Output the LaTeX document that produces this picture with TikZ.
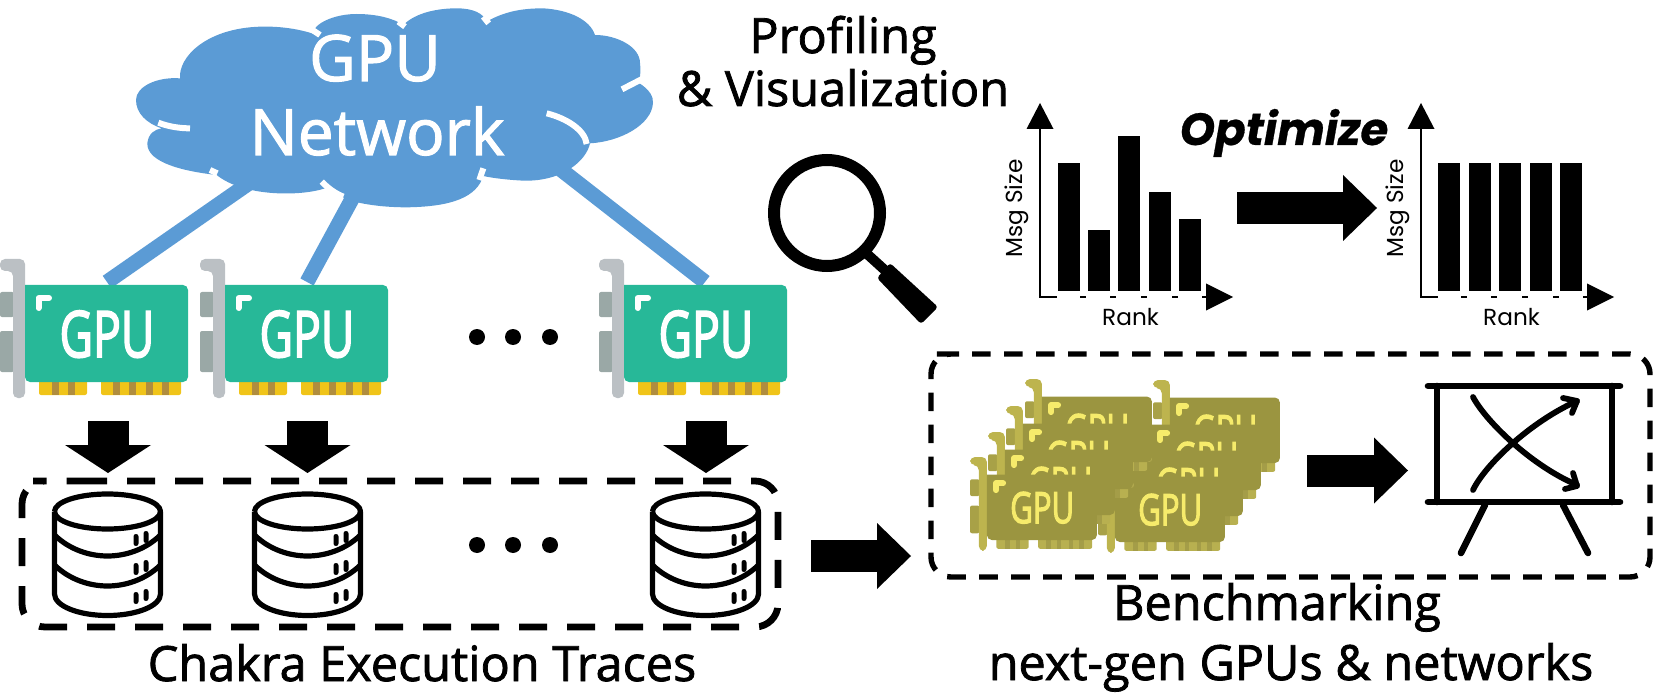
\documentclass[tikz,border=0pt]{standalone}
\usepackage{fontspec}
\usetikzlibrary{arrows.meta}
\setmainfont{Open Sans}[FakeBold=1.6]
\newfontfamily\cardfont{Open Sans}[FakeBold=3]
\newfontfamily\popfont{Poppins}
\newfontfamily\optfont{Poppins}[BoldItalicFeatures={FakeBold=0.6}]
\definecolor{cloudblue}{HTML}{5B9BD5}
\tikzset{
  x=0.5pt,y=-0.5pt,
  mainlabel/.style={anchor=base,inner sep=0pt,font=\fontsize{24.3pt}{29pt}\selectfont},
  axislabel/.style={anchor=base,inner sep=0pt,font=\popfont\fontsize{11.6pt}{14pt}\selectfont},
  cloudtext/.style={anchor=base,inner sep=0pt,text=white,font=\fontsize{32pt}{39pt}\selectfont},
  downarrow/.style={line width=20.5pt,-{Triangle[length=14pt,width=43pt,line width=0pt]}},
  siderow/.style={line width=16pt,-{Triangle[length=17pt,width=33pt,line width=0pt]}},
  axisline/.style={line width=1.3pt},
  link/.style={cloudblue,line width=7.5pt},
  tracedash/.style={line width=3.4pt,dash pattern=on 14pt off 10pt,rounded corners=11.5pt},
  benchdash/.style={line width=2.7pt,dash pattern=on 9.3pt off 6.7pt,rounded corners=10pt},
  dbline/.style={line width=2.6pt,line join=round},
  boardline/.style={line width=3.3pt,line cap=round},
  boardcurve/.style={line width=2.9pt,line cap=round,line join=round},
  hole/.style={fill=black},
  dotmark/.style={fill=black},
}
% palette
\newcommand{\gpupalette}[7]{%
  \definecolor{cbody}{HTML}{#1}\definecolor{cbracket}{HTML}{#2}\definecolor{cport}{HTML}{#3}%
  \definecolor{cgold}{HTML}{#4}\definecolor{cstripe}{HTML}{#5}\definecolor{cink}{HTML}{#6}\definecolor{cicon}{HTML}{#7}}
% name, x, y, scale
\newcommand{\gpucard}[4]{%
 \begin{scope}[shift={(#2,#3)},scale=#4]
  \fill[cport,rounded corners=1pt] (0,33) rectangle (14,58);
  \fill[cport,rounded corners=1pt] (0,72) rectangle (14,113);
  \fill[cgold,rounded corners=1pt] (39,120) rectangle (87,136);
  \fill[cgold,rounded corners=1pt] (101,120) rectangle (181,136);
  \foreach \s in {52,68,113,129,146,162}{\fill[cstripe] (\s,122) rectangle (\s+6.5,136);}
  \fill[cbracket,rounded corners=2.5pt] (13,139) -- (25,139) -- (25,0) -- (0,0) -- (0,12) -- (13,12) -- cycle;
  \fill[cbody,rounded corners=2.5pt] (25,26) -- (188,26) -- (188,123) -- (25,123) [sharp corners] -- cycle;
  \draw[cicon,line width=3pt,line cap=round,line join=round] (38.5,49) -- (38.5,39) -- (49,39);
  \node[inner sep=0pt,anchor=base,text=cink,xscale=.72,transform shape,font=\cardfont\fontsize{32pt}{38pt}\selectfont] (#1) at (107,98) {GPU};
 \end{scope}}
\newcommand{\dbcyl}[1]{%
 \begin{scope}[shift={(#1,0)}]
  \draw[dbline,fill=white] (54.5,511.5) arc[start angle=180,end angle=-180,x radius=53,y radius=17.5];
  \draw[dbline] (54.5,511.5) -- (54.5,594) arc[start angle=180,end angle=0,x radius=53,y radius=21.5] -- (160.5,511.5);
  \draw[dbline] (54.5,535) .. controls (70,550) and (90,556) .. (107.5,556) .. controls (125,556) and (145,550) .. (160.5,535);
  \draw[dbline] (54.5,565) .. controls (70,580) and (90,586) .. (107.5,586) .. controls (125,586) and (145,580) .. (160.5,565);
  \foreach \d in {0,29,58}{
    \fill[hole,rounded corners=1.2pt] (133.5,534+\d) rectangle (138.5,546+\d);
    \fill[hole,rounded corners=1.2pt] (143.5,531+\d) rectangle (148.5,543+\d);
  }
 \end{scope}}
% origin x
\newcommand{\msgchart}[3]{%
 \begin{scope}[shift={(#1,0)}]
  \draw[axisline] (1040,125) -- (1040,297) -- (1057,297);
  \foreach \s in {1083,1113,1144,1175}{\draw[axisline] (\s-3,297) -- (\s+3,297);}
  \draw[axisline] (1202,297) -- (1208,297);
  \fill (1040,103) -- (1053.5,129) -- (1026.5,129) -- cycle;
  \fill (1233,297) -- (1206,283.5) -- (1206,310.5) -- cycle;
  #3
  \node[axislabel,rotate=90,anchor=center] (#2y) at (1017,208.5) {Msg Size};
  \node[axislabel] (#2x) at (1130.5,325) {Rank};
 \end{scope}}
\begin{document}
\begin{tikzpicture}
\useasboundingbox (0,0) rectangle (1654,695);
% links
\coordinate (linkAa) at (268,170); \coordinate (linkAb) at (107,282);
\coordinate (linkBa) at (365,175); \coordinate (linkBb) at (307,282);
\coordinate (linkCa) at (555,165); \coordinate (linkCb) at (705,282);
\draw[link] (linkAa) -- (linkAb);
\draw[link] (linkBa) -- (linkBb);
\draw[link] (linkCa) -- (linkCb);
% cloud
\begin{scope}[shift={(120,0)},scale=1/3]
 \fill[cloudblue]
  (48,300) .. controls (48,260) and (110,230) .. (180,235)
  .. controls (175,170) and (260,85) .. (420,80)
  .. controls (490,78) and (550,90) .. (590,105)
  .. controls (560,90) and (620,42) .. (710,42)
  .. controls (770,42) and (820,55) .. (850,75)
  .. controls (890,35) and (960,25) .. (1010,25)
  .. controls (1060,25) and (1090,40) .. (1100,65)
  .. controls (1160,30) and (1220,25) .. (1270,25)
  .. controls (1350,30) and (1410,60) .. (1425,105)
  .. controls (1490,105) and (1560,140) .. (1560,189)
  .. controls (1562,205) and (1562,225) .. (1557,249)
  .. controls (1590,270) and (1600,290) .. (1599,309)
  .. controls (1595,375) and (1500,425) .. (1410,430)
  .. controls (1400,480) and (1330,545) .. (1210,542)
  .. controls (1170,540) and (1120,535) .. (1090,528)
  .. controls (1070,590) and (1000,620) .. (860,622)
  .. controls (780,622) and (700,610) .. (665,590)
  .. controls (640,570) and (630,555) .. (615,565)
  .. controls (540,590) and (370,590) .. (290,525)
  .. controls (200,515) and (80,490) .. (82,430)
  .. controls (85,400) and (105,388) .. (125,385)
  .. controls (80,370) and (48,340) .. (48,300) -- cycle;
 \draw[white,line width=3pt] (115,368) .. controls (145,380) and (180,385) .. (210,385);
 \draw[white,line width=3pt] (1280,340) .. controls (1340,355) and (1395,390) .. (1400,432);
 \draw[white,line width=3pt] (1506,268) -- (1570,235);
 \draw[white,line width=3pt] (605,545) .. controls (625,565) and (645,580) .. (670,590);
 \draw[white,line width=3pt] (1090,505) -- (1078,540);
 \draw[white,line width=3pt] (270,510) -- (292,520);
 \draw[white,line width=3pt] (570,85) -- (600,105);
 \draw[white,line width=3pt] (1090,50) -- (1106,70);
 \draw[white,line width=3pt] (835,65) -- (855,80);
\end{scope}
\node[cloudtext] (cloudA) at (375,81) {GPU};
\node[cloudtext] (cloudB) at (377,155) {Network};
% green cards
\gpupalette{27B898}{BBC0C4}{9AA8A6}{F0C419}{B08D3E}{FFFFFF}{FFFFFF}
\gpucard{cardA}{0}{259}{1}
\gpucard{cardB}{200}{259}{1}
\gpucard{cardC}{599}{259}{1}
% dots
\foreach \x in {477,513,550}{\fill[dotmark] (\x,337) circle[radius=8];\fill[dotmark] (\x,545) circle[radius=8];}
% trace box
\draw[tracedash] (56,481) -- (778,481) -- (778,627) -- (22,627) -- (22,481) -- cycle;
% down arrows
\foreach \n/\x in {A/108,B/307.5,C/706}{
 \coordinate (d\n a) at (\x,421); \coordinate (d\n b) at (\x,473);
 \draw[downarrow] (d\n a) -- (d\n b);
}
% databases
\dbcyl{0}\dbcyl{200}\dbcyl{598}
% bench box
\draw[benchdash] (952,354) -- (1650,354) -- (1650,577) -- (931,577) -- (931,354) -- cycle;
\coordinate (moveA) at (811,556); \coordinate (moveB) at (911,556);
\draw[siderow] (moveA) -- (moveB);
\coordinate (benchA) at (1307,470.5); \coordinate (benchB) at (1408,470.5);
\draw[siderow] (benchA) -- (benchB);
\coordinate (optA) at (1237,208); \coordinate (optB) at (1377,208);
\draw[siderow] (optA) -- (optB);
% olive cards: right stack then left stack
\gpupalette{9B9540}{BDB44E}{A8A147}{B8B050}{A49D48}{F6EB6B}{F6EB6B}
\gpucard{oliveRa}{1153}{380}{.675}
\begin{scope}\gpupalette{9B9540}{BDB44E}{A8A147}{B8B050}{A49D48}{F6EB6B}{F6EB6B}
\gpucard{oliveRb}{1134}{407}{.675}
\end{scope}
\begin{scope}\gpupalette{9B9540}{BDB44E}{A8A147}{B8B050}{A49D48}{F6EB6B}{B0A84E}
\gpucard{oliveRc}{1116}{433}{.675}
\gpucard{oliveRd}{1098}{459}{.675}
\end{scope}
\gpucard{oliveLa}{1025}{379}{.675}
\gpucard{oliveLb}{1006}{406}{.675}
\gpucard{oliveLc}{988}{432}{.675}
\gpucard{oliveLd}{970}{457}{.675}
% board
\draw[boardline] (1428,386) -- (1620,386);
\draw[boardline] (1428,502) -- (1620,502);
\draw[boardline] (1437,386) -- (1437,502);
\draw[boardline] (1612,386) -- (1612,502);
\draw[boardline] (1485,505) -- (1461,553);
\draw[boardline] (1563,505) -- (1588,553);
\draw[boardcurve] (1473,397) .. controls (1485,420) and (1530,465) .. (1577,485);
\draw[boardcurve] (1473,490) .. controls (1485,465) and (1530,422) .. (1577,401);
\draw[boardcurve] (1563,398) -- (1577,401) -- (1572,413);
\draw[boardcurve] (1573,473) -- (1577,486) -- (1565,489);
% magnifier
\draw[line width=6pt] (827,213) circle[radius=53];
\draw[line width=5pt] (866,253) -- (888,273);
\fill[rounded corners=1.5pt] (890,263) -- (938,307) -- (921,324) -- (877,278) -- cycle;
% charts
\msgchart{0}{chartA}{
  \fill (1058,163) rectangle (1080,291);
  \fill (1088,230) rectangle (1110,291);
  \fill (1118,136) rectangle (1140,291);
  \fill (1149,192) rectangle (1171,291);
  \fill (1179,219) rectangle (1201,291);
}
\msgchart{381}{chartB}{
  \fill (1057,163) rectangle (1079,291);
  \fill (1088,163) rectangle (1110,291);
  \fill (1118,163) rectangle (1140,291);
  \fill (1149,163) rectangle (1171,291);
  \fill (1179,163) rectangle (1201,291);
}
% labels
\node[mainlabel] (t1) at (843,53) {Profiling};
\node[mainlabel] (t2) at (843,106) {\& Visualization};
\node[anchor=base,inner sep=0pt,font=\optfont\bfseries\itshape\fontsize{22.5pt}{27pt}\selectfont] (t3) at (1284,145) {Optimize};
\node[mainlabel] (t4) at (422,681) {Chakra Execution Traces};
\node[mainlabel] (t5) at (1277,620) {Benchmarking};
\node[mainlabel] (t6) at (1291,680) {next-gen GPUs \& networks};
\end{tikzpicture}
\end{document}
